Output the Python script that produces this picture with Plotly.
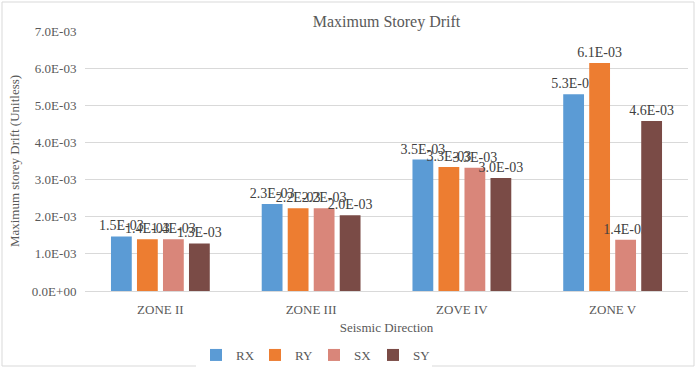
import plotly.graph_objects as go

categories = ["ZONE II", "ZONE III", "ZOVE IV", "ZONE V"]
series_names = ["RX", "RY", "SX", "SY"]
rx = [1.47e-3, 2.34e-3, 3.54e-3, 5.30e-3]
ry = [1.39e-3, 2.23e-3, 3.34e-3, 6.14e-3]
sx = [1.39e-3, 2.23e-3, 3.32e-3, 1.38e-3]
sy = [1.28e-3, 2.04e-3, 3.04e-3, 4.58e-3]
colors = ["#5B9BD5", "#ED7D31", "#D9867A", "#7A4B46"]
ytick_vals = [0, 1e-3, 2e-3, 3e-3, 4e-3, 5e-3, 6e-3, 7e-3]
ytick_text = ["0.0E+00", "1.0E-03", "2.0E-03", "3.0E-03", "4.0E-03", "5.0E-03", "6.0E-03", "7.0E-03"]

FONT = "Liberation Serif"
TXT = "#595959"


def sci(v):
    m, e = f"{v:.1E}".split("E")
    e = int(e)
    return f"{m}E-{abs(e):02d}" if e < 0 else f"{m}E+{e:02d}"


fig = go.Figure()
for name, vals, col in zip(series_names, [rx, ry, sx, sy], colors):
    fig.add_trace(go.Bar(
        name=name, x=categories, y=vals, marker_color=col, marker_line_width=0,
        text=[sci(v) for v in vals], textposition="outside", constraintext="none",
        textfont=dict(family=FONT, size=14, color="#404040"), cliponaxis=False,
    ))

fig.update_layout(
    width=696, height=368,
    margin=dict(l=85, r=8, t=31, b=77, autoexpand=False),
    paper_bgcolor="white", plot_bgcolor="white",
    font=dict(family=FONT, size=13, color=TXT),
    title=dict(text="Maximum Storey Drift", x=0.5, xref="paper", y=1 - 21 / 368, yref="container",
               yanchor="middle", font=dict(family=FONT, size=16, color=TXT)),
    barmode="group", bargap=0.31, bargroupgap=0.2,
    showlegend=True,
    legend=dict(orientation="h", x=196 / 696, xref="container", xanchor="left",
                y=1 - 355 / 368, yref="container", yanchor="middle",
                font=dict(family=FONT, size=13, color=TXT), entrywidth=14, entrywidthmode="pixels",
                itemwidth=30),
    shapes=[dict(type="rect", xref="paper", yref="paper",
                 x0=-83 / 603, x1=1 + 6 / 603, y0=-75 / 260, y1=1 + 29 / 260,
                 line=dict(color="#D9D9D9", width=1), fillcolor="rgba(0,0,0,0)")],
)
fig.update_xaxes(automargin=False, showline=True, linecolor="#D9D9D9", linewidth=1, ticks="",
                 ticklabelstandoff=6,
                 tickfont=dict(family=FONT, size=13, color=TXT),
                 title=dict(text="Seismic Direction", standoff=7, font=dict(family=FONT, size=13, color=TXT)))
fig.update_yaxes(automargin=False, range=[0, 7e-3], tickvals=ytick_vals, ticktext=ytick_text,
                 showgrid=True, gridcolor="#D9D9D9", gridwidth=1, zeroline=False,
                 tickfont=dict(family=FONT, size=13, color=TXT), ticks="outside", ticklen=5, tickcolor="white",
                 title=dict(text="Maximum storey Drift (Unitless)", standoff=9,
                            font=dict(family=FONT, size=13, color=TXT)))

fig.write_html("out.html", config={"displayModeBar": False},
               post_script="document.body.style.margin='0';document.body.style.overflow='hidden';")
